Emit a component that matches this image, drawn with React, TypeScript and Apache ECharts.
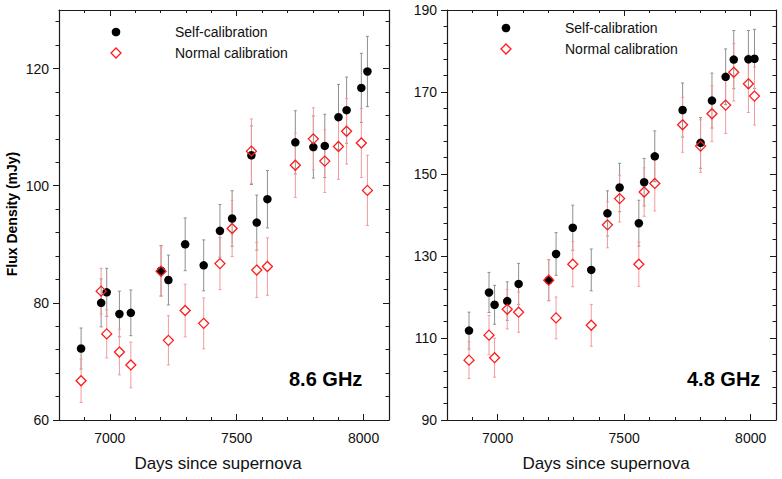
import React, { useEffect, useRef } from "react";
import * as echarts from "echarts";

// Observation epochs (days since supernova)
const days = [6887, 6966, 6988, 7038, 7083, 7202, 7231, 7297, 7370, 7434, 7482, 7558, 7579, 7621, 7731, 7802, 7847, 7901, 7933, 7991, 8015];

// 8.6 GHz
const self86 = [72.2, 80.0, 81.8, 78.1, 78.3, 85.5, 83.9, 90.0, 86.4, 92.3, 94.4, 105.2, 93.7, 97.7, 107.4, 106.6, 106.8, 111.7, 112.9, 116.7, 119.5];
const self86Err = [3.5, 4.1, 4.1, 3.9, 3.9, 4.3, 4.25, 4.5, 4.35, 4.5, 4.75, 5.0, 4.7, 4.9, 5.4, 5.3, 5.4, 5.6, 5.65, 5.9, 6.0];
const norm86 = [66.7, 82.0, 74.7, 71.6, 69.4, 85.4, 73.6, 78.7, 76.5, 86.7, 92.7, 105.9, 85.6, 86.2, 103.5, 108.0, 104.2, 106.7, 109.3, 107.3, 99.2];
const norm86Err = [3.7, 3.9, 4.1, 3.9, 3.9, 4.3, 4.2, 4.5, 4.35, 4.45, 4.8, 5.5, 4.7, 4.9, 5.5, 5.3, 5.35, 5.6, 5.6, 5.9, 6.0];

// 4.8 GHz
const self48 = [111.8, 121.1, 118.1, 119.0, 123.2, 124.1, 130.5, 136.9, 126.6, 140.4, 146.7, 138.0, 148.0, 154.3, 165.6, 157.6, 167.9, 173.7, 177.9, 178.0, 178.1];
const self48Err = [4.5, 4.9, 4.75, 4.7, 5.0, 5.0, 5.2, 5.5, 5.1, 5.5, 5.9, 5.6, 5.8, 6.2, 6.6, 6.2, 6.7, 6.8, 7.1, 7.0, 7.2];
const norm48 = [104.6, 110.7, 105.2, 117.0, 116.3, 124.1, 114.9, 128.0, 113.1, 137.6, 144.0, 128.0, 145.6, 147.7, 162.0, 156.8, 164.7, 166.8, 174.8, 172.0, 169.0];
const norm48Err = [4.5, 4.8, 4.75, 4.8, 4.9, 5.0, 5.1, 5.5, 5.1, 5.6, 5.7, 5.4, 5.9, 6.7, 6.7, 6.4, 6.8, 6.9, 7.0, 7.0, 7.05];

// Axis ticks
const xRange = [6800, 8100];
const xMajorTicks = [7000, 7500, 8000];
const xMinorTicks = [6900, 7100, 7200, 7300, 7400, 7600, 7700, 7800, 7900];
const yRange86 = [60, 130];
const yMajor86 = [60, 80, 100, 120];
const yMinor86 = [64, 68, 72, 76, 84, 88, 92, 96, 104, 108, 112, 116, 124, 128];
const yRange48 = [90, 190];
const yMajor48 = [90, 110, 130, 150, 170, 190];
const yMinor48 = [94, 98, 102, 106, 114, 118, 122, 126, 134, 138, 142, 146, 154, 158, 162, 166, 174, 178, 182, 186];

const panelLabels = ["8.6 GHz", "4.8 GHz"];
const legendNames = ["Self-calibration", "Normal calibration"];
const xTitle = "Days since supernova";
const yTitle = "Flux Density (mJy)";

const FONT = '"Liberation Sans", Arial, Helvetica, sans-serif';
const AXIS_COLOR = "#1a1a1a";
const plain = (v: number) => String(v);

function xAxesFor(g: number) {
  const base: any = { type: "value", gridIndex: g, min: xRange[0], max: xRange[1], splitLine: { show: false } };
  const tickLine = { color: AXIS_COLOR, width: 1 };
  return [
    {
      ...base, position: "bottom",
      axisLine: { show: true, onZero: false, lineStyle: { color: AXIS_COLOR, width: 1.2 } },
      axisTick: { show: true, inside: true, length: 6, customValues: xMajorTicks, lineStyle: tickLine },
      axisLabel: { show: true, customValues: xMajorTicks, formatter: plain, margin: 11, fontSize: 14, color: "#111", fontFamily: FONT },
    },
    {
      ...base, position: "bottom",
      axisLine: { show: false, onZero: false },
      axisTick: { show: true, inside: true, length: 3, customValues: xMinorTicks, lineStyle: tickLine },
      axisLabel: { show: false },
    },
    {
      ...base, position: "top",
      axisLine: { show: true, onZero: false, lineStyle: { color: AXIS_COLOR, width: 1.2 } },
      axisTick: { show: true, inside: true, length: 6, customValues: xMajorTicks, lineStyle: tickLine },
      axisLabel: { show: false },
    },
    {
      ...base, position: "top",
      axisLine: { show: false, onZero: false },
      axisTick: { show: true, inside: true, length: 3, customValues: xMinorTicks, lineStyle: tickLine },
      axisLabel: { show: false },
    },
  ];
}

function yAxesFor(g: number, range: number[], major: number[], minor: number[]) {
  const base: any = { type: "value", gridIndex: g, min: range[0], max: range[1], splitLine: { show: false } };
  const tickLine = { color: AXIS_COLOR, width: 1 };
  return [
    {
      ...base, position: "left",
      axisLine: { show: true, onZero: false, lineStyle: { color: AXIS_COLOR, width: 1.2 } },
      axisTick: { show: true, inside: false, length: 6, customValues: major, lineStyle: tickLine },
      axisLabel: { show: true, customValues: major, formatter: plain, margin: 10, fontSize: 14, color: "#111", fontFamily: FONT },
    },
    {
      ...base, position: "left",
      axisLine: { show: false, onZero: false },
      axisTick: { show: true, inside: false, length: 3.5, customValues: minor, lineStyle: tickLine },
      axisLabel: { show: false },
    },
    {
      ...base, position: "right",
      axisLine: { show: true, onZero: false, lineStyle: { color: AXIS_COLOR, width: 1.2 } },
      axisTick: { show: true, inside: true, length: 6, customValues: major, lineStyle: tickLine },
      axisLabel: { show: false },
    },
    {
      ...base, position: "right",
      axisLine: { show: false, onZero: false },
      axisTick: { show: true, inside: true, length: 3.5, customValues: minor, lineStyle: tickLine },
      axisLabel: { show: false },
    },
  ];
}

function errRender(color: string, gap: number) {
  return (params: any, api: any) => {
    const x = api.value(0);
    const lo = api.value(1);
    const hi = api.value(2);
    const mid = api.value(3);
    const pLo = api.coord([x, lo]);
    const pHi = api.coord([x, hi]);
    const pM = api.coord([x, mid]);
    const cx = pM[0];
    const style = { stroke: color, lineWidth: 1 };
    const children: any[] = [];
    if (pHi[1] < pM[1] - gap) {
      children.push({ type: "line", shape: { x1: cx, y1: pHi[1], x2: cx, y2: pM[1] - gap }, style });
    }
    if (pLo[1] > pM[1] + gap) {
      children.push({ type: "line", shape: { x1: cx, y1: pM[1] + gap, x2: cx, y2: pLo[1] }, style });
    }
    children.push({ type: "line", shape: { x1: cx - 1.5, y1: pHi[1], x2: cx + 1.5, y2: pHi[1] }, style });
    children.push({ type: "line", shape: { x1: cx - 1.5, y1: pLo[1], x2: cx + 1.5, y2: pLo[1] }, style });
    return { type: "group", children };
  };
}

function seriesFor(g: number, selfV: number[], selfE: number[], normV: number[], normE: number[]) {
  const xi = g * 4;
  const yi = g * 4;
  return [
    {
      type: "custom", xAxisIndex: xi, yAxisIndex: yi, z: 1,
      renderItem: errRender("#8f8f8f", 4),
      data: days.map((d, i) => [d, selfV[i] - selfE[i], selfV[i] + selfE[i], selfV[i]]),
      silent: true,
    },
    {
      type: "custom", xAxisIndex: xi, yAxisIndex: yi, z: 1,
      renderItem: errRender("#f49a9a", 5),
      data: days.map((d, i) => [d, normV[i] - normE[i], normV[i] + normE[i], normV[i]]),
      silent: true,
    },
    {
      type: "scatter", name: legendNames[0], xAxisIndex: xi, yAxisIndex: yi, z: 3,
      symbol: "circle", symbolSize: 8.5,
      itemStyle: { color: "#000", opacity: 1 },
      data: days.map((d, i) => [d, selfV[i]]),
    },
    {
      type: "scatter", name: legendNames[1], xAxisIndex: xi, yAxisIndex: yi, z: 4,
      symbol: "diamond", symbolSize: 10,
      itemStyle: { color: "rgba(0,0,0,0)", borderColor: "#ff1a1a", borderWidth: 1.3, opacity: 1 },
      data: days.map((d, i) => [d, normV[i]]),
    },
  ];
}

function legendGraphics(cx: number, y1: number, y2: number, tx: number) {
  return [
    { type: "circle", shape: { cx, cy: y1, r: 4.3 }, style: { fill: "#000" } },
    {
      type: "polygon",
      shape: { points: [[cx, y2 - 5], [cx + 5, y2], [cx, y2 + 5], [cx - 5, y2]] },
      style: { fill: "none", stroke: "#ff1a1a", lineWidth: 1.3 },
    },
    { type: "text", x: tx, y: y1, style: { text: legendNames[0], font: `14px ${FONT}`, fill: "#111", textAlign: "left", textVerticalAlign: "middle" } },
    { type: "text", x: tx, y: y2, style: { text: legendNames[1], font: `14px ${FONT}`, fill: "#111", textAlign: "left", textVerticalAlign: "middle" } },
  ];
}

export default function App() {
  const ref = useRef<HTMLDivElement>(null);
  useEffect(() => {
    if (!ref.current) return;
    const chart = echarts.init(ref.current, null, { renderer: "svg" });
    const option: any = {
      animation: false,
      backgroundColor: "#fff",
      grid: [
        { left: 59, top: 10, width: 330, height: 410, outerBoundsMode: "none", containLabel: false },
        { left: 447, top: 10, width: 329, height: 410, outerBoundsMode: "none", containLabel: false },
      ],
      xAxis: [...xAxesFor(0), ...xAxesFor(1)],
      yAxis: [...yAxesFor(0, yRange86, yMajor86, yMinor86), ...yAxesFor(1, yRange48, yMajor48, yMinor48)],
      series: [
        ...seriesFor(0, self86, self86Err, norm86, norm86Err),
        ...seriesFor(1, self48, self48Err, norm48, norm48Err),
      ],
      graphic: [
        ...legendGraphics(116, 32, 53, 175),
        ...legendGraphics(506, 28, 49, 565),
        { type: "text", x: 289, y: 379, style: { text: panelLabels[0], font: `bold 20px ${FONT}`, fill: "#000", textAlign: "left", textVerticalAlign: "middle" } },
        { type: "text", x: 687, y: 379, style: { text: panelLabels[1], font: `bold 20px ${FONT}`, fill: "#000", textAlign: "left", textVerticalAlign: "middle" } },
        { type: "text", x: 218, y: 463, style: { text: xTitle, font: `17px ${FONT}`, fill: "#111", textAlign: "center", textVerticalAlign: "middle" } },
        { type: "text", x: 606, y: 463, style: { text: xTitle, font: `17px ${FONT}`, fill: "#111", textAlign: "center", textVerticalAlign: "middle" } },
        { type: "text", x: 12, y: 214, rotation: Math.PI / 2, style: { text: yTitle, font: `bold 14px ${FONT}`, fill: "#000", textAlign: "center", textVerticalAlign: "middle" } },
      ],
    };
    chart.setOption(option);
    return () => chart.dispose();
  }, []);
  return (
    <div
      ref={ref}
      style={{ position: "fixed", left: 0, top: 0, width: 782, height: 479, background: "#fff" }}
    />
  );
}
